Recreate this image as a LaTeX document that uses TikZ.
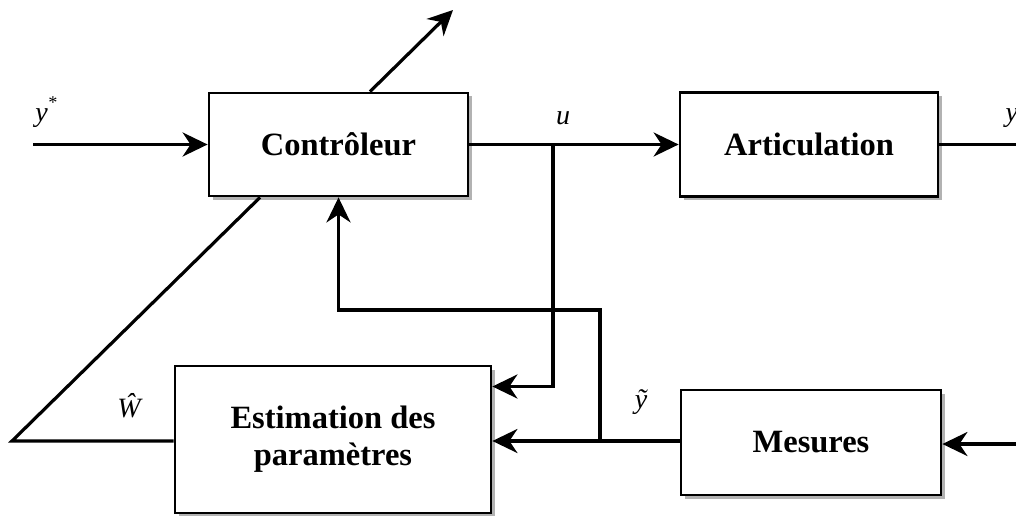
\documentclass[tikz,border=0pt]{standalone}
\usepackage{fontspec}
\setmainfont{Liberation Serif}
\usetikzlibrary{arrows.meta,shadows}
\begin{document}
\begin{tikzpicture}[x=1pt,y=-1pt,
  line width=3.2pt,
  arr/.style={-{Stealth[length=25pt,width=24pt,inset=8pt]}},
  blk/.style={draw, fill=white, line width=2.8pt, inner sep=0pt,
    font=\fontsize{32.5}{37}\selectfont\bfseries, align=center,
    drop shadow={shadow xshift=3.5pt, shadow yshift=-3.5pt, fill=gray!60, opacity=1}},
  lbl/.style={font=\fontsize{28}{30}\selectfont\itshape, inner sep=0pt}]
\useasboundingbox[fill=white] (0,0) rectangle (1016,516);

% blocks
\node[blk, minimum width=259pt, minimum height=103pt] (ctrl) at (338.5,144.5) {Contrôleur};
\node[blk, minimum width=258pt, minimum height=104pt] (artic) at (809,144.5) {Articulation};
\node[blk, minimum width=316pt, minimum height=147pt] (estim) at (333,439.5) {Estimation des\\paramètres};
\node[blk, minimum width=260pt, minimum height=105pt] (mes) at (811,442.5) {Mesures};

% free ends and corners
\coordinate (yin) at (33,144.5);
\coordinate (yout) at (1016,144.5);
\coordinate (mesin) at (1016,444);
\coordinate (adapt) at (453,10);
\coordinate (corner) at (12,441);
\coordinate (ubranch) at (553,144.5);
\coordinate (ydown) at (600,441);

% forward path
\draw[arr] (yin) -- (ctrl.west);
\draw[arr] (ctrl.east) -- (artic.west);
\draw (artic.east) -- (yout);
\draw[arr] (mesin) -- (mes.east |- mesin);

% adaptation arrow through the controller
\draw[arr] (ctrl.north west -| 370,0) -- (adapt);
\draw (estim.west |- corner) -- (corner) -- (ctrl.south west -| 260,0);

% command u to the estimator
\draw[arr] (ubranch) -- (553,386.5) -- (estim.east |- 0,386.5);

% measured output to estimator and controller
\draw[arr] (mes.west |- ydown) -- (estim.east |- ydown);
\draw[arr] (ydown) -- (600,310) -- (338.5,310) -- (ctrl.south);

% labels
\node[lbl] (lys) at (46,112) {y\raisebox{0.45em}{\fontsize{18}{18}\selectfont*}};
\node[lbl] (lu) at (563,118) {u};
\node[lbl] (lyt) at (641,402) {ỹ};
\node[lbl] (lw) at (129,406) {Ŵ};
\node[lbl, anchor=west] (ly) at (1004,118) {y};
\end{tikzpicture}
\end{document}
